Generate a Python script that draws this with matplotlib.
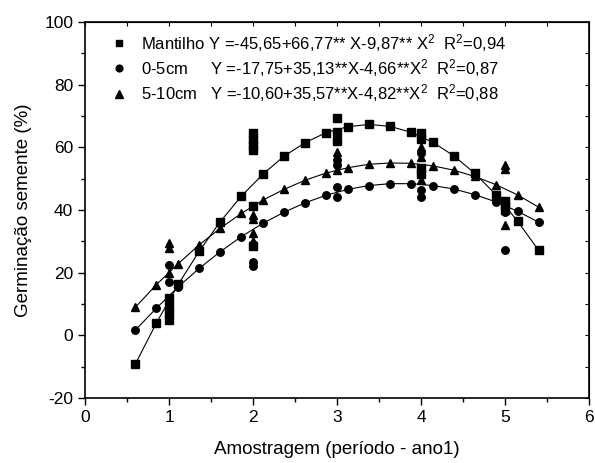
import matplotlib
matplotlib.use("Agg")
import matplotlib.pyplot as plt
from matplotlib.ticker import MultipleLocator

plt.rcParams['font.family'] = ['Liberation Sans', 'DejaVu Sans']
plt.rcParams['mathtext.fontset'] = 'custom'
plt.rcParams['mathtext.rm'] = 'Liberation Sans'
plt.rcParams['mathtext.default'] = 'regular'
plt.rcParams['axes.unicode_minus'] = False

# fitted-curve marker positions (x) and values
curve_x = [0.60, 0.85, 1.11, 1.36, 1.61, 1.86, 2.12, 2.37, 2.62, 2.87,
           3.13, 3.38, 3.63, 3.88, 4.14, 4.39, 4.64, 4.89, 5.15, 5.40]
curve_mantilho = [-9.1, 4.0, 16.3, 26.9, 36.3, 44.4, 51.5, 57.2, 61.5, 64.7,
                  66.6, 67.3, 66.7, 64.8, 61.6, 57.3, 51.7, 44.9, 36.4, 27.1]
curve_0_5 = [1.7, 8.7, 15.5, 21.4, 26.7, 31.5, 35.8, 39.3, 42.3, 44.7,
             46.6, 47.8, 48.4, 48.4, 47.8, 46.7, 44.9, 42.6, 39.6, 36.1]
curve_5_10 = [9.0, 16.2, 22.9, 28.9, 34.2, 38.9, 43.2, 46.6, 49.5, 51.8,
              53.5, 54.6, 55.0, 54.9, 54.1, 52.7, 50.7, 48.1, 44.8, 40.9]

# observations
obs_x_mantilho = [1, 1, 1, 1, 2, 2, 2, 2, 2, 2, 3, 3, 3, 4, 4, 4, 4, 5, 5, 5]
obs_y_mantilho = [12, 9.5, 7, 5, 64.5, 62.3, 60.7, 59.1, 41.3, 28.5,
                  69.3, 65, 62, 64.5, 62.5, 53.5, 51.5, 43, 41.5, 40]
obs_x_0_5 = [1, 1, 2, 2, 2, 3, 3, 3, 3, 4, 4, 4, 5, 5, 5]
obs_y_0_5 = [22.4, 17.1, 29, 23.3, 22, 56, 54.3, 47.4, 44.2, 58.2, 46.4, 44, 42, 39.5, 27.2]
obs_x_5_10 = [1, 1, 1, 2, 2, 2, 2, 3, 3, 4, 4, 4, 5, 5, 5]
obs_y_5_10 = [29.5, 27.8, 19.9, 38.4, 37, 32.7, 30, 58.6, 52.8, 60, 57, 49.6, 54.5, 53, 35.2]

labels = [
    "Mantilho Y =-45,65+66,77** X-9,87** X$^2$  R$^2$=0,94",
    "0-5cm     Y =-17,75+35,13**X-4,66**X$^2$  R$^2$=0,87",
    "5-10cm   Y =-10,60+35,57**X-4,82**X$^2$  R$^2$=0,88",
]

fig = plt.figure(figsize=(5.95, 4.63), dpi=100)
ax = fig.add_axes([0.143, 0.1404, 0.847, 0.8121])

ms = 5.4
series = [
    (curve_mantilho, obs_x_mantilho, obs_y_mantilho, 's', ms),
    (curve_0_5, obs_x_0_5, obs_y_0_5, 'o', ms),
    (curve_5_10, obs_x_5_10, obs_y_5_10, '^', ms + 1),
]
handles = []
for cy, ox, oy, mk, m in series:
    ax.plot(curve_x, cy, color='black', lw=0.8, marker=mk, ms=m, mec='black', mfc='black')
    h, = ax.plot(ox, oy, ls='none', marker=mk, ms=m, mec='black', mfc='black')
    handles.append(h)

leg = ax.legend(handles, labels, loc='upper left', frameon=False, fontsize=12,
                handlelength=0.6, handletextpad=1.0, labelspacing=0.2,
                borderaxespad=0.3, bbox_to_anchor=(0.035, 1.005), markerscale=0.9)

ax.set_xlim(0, 6)
ax.set_ylim(-20, 100)
ax.xaxis.set_major_locator(MultipleLocator(1))
ax.xaxis.set_minor_locator(MultipleLocator(0.5))
ax.yaxis.set_major_locator(MultipleLocator(20))
ax.yaxis.set_minor_locator(MultipleLocator(10))
ax.tick_params(which='both', direction='out', top=False, right=False, labelsize=12.5, width=1)
ax.tick_params(which='major', length=5)
ax.tick_params(which='minor', length=3)

for side in ['left', 'bottom', 'top', 'right']:
    ax.spines[side].set_linewidth(1.2)

# inward ticks on top and right
sec_x = ax.secondary_xaxis('top')
sec_x.xaxis.set_major_locator(MultipleLocator(0.5))
sec_x.tick_params(direction='in', length=3, labeltop=False)
sec_y = ax.secondary_yaxis('right')
sec_y.yaxis.set_major_locator(MultipleLocator(10))
sec_y.tick_params(direction='in', length=3, labelright=False)

ax.set_xlabel("Amostragem (período - ano1)", fontsize=13.5, labelpad=12)
ax.set_ylabel("Germinação semente (%)", fontsize=13.5, labelpad=9)

fig.savefig("out.png", dpi=100)
